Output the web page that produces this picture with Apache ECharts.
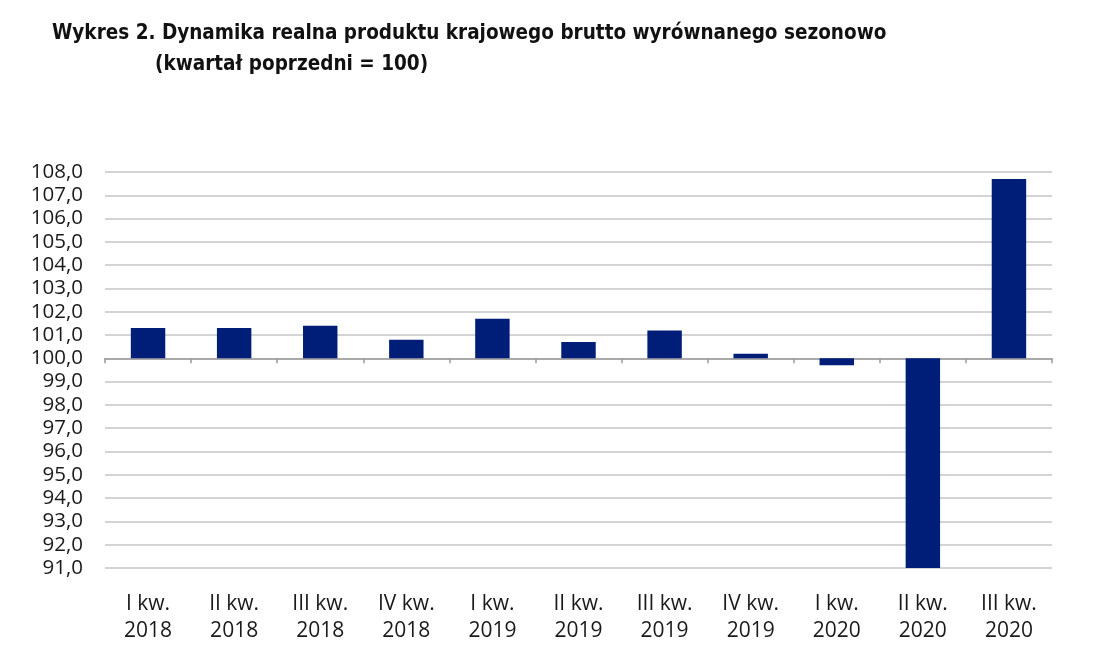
<!DOCTYPE html>
<html>
<head>
<meta charset="utf-8">
<script src="https://cdn.jsdelivr.net/npm/echarts@6/dist/echarts.min.js"></script>
<style>
  html, body { margin: 0; padding: 0; background: #fff; }
  #chart { width: 1101px; height: 659px; }
</style>
</head>
<body>
<div id="chart"></div>
<script>
// kwartały
const categories = [
  'I kw.\n2018', 'II kw.\n2018', 'III kw.\n2018', 'IV kw.\n2018',
  'I kw.\n2019', 'II kw.\n2019', 'III kw.\n2019', 'IV kw.\n2019',
  'I kw.\n2020', 'II kw.\n2020', 'III kw.\n2020'
];
// kwartał poprzedni = 100
const values = [101.3, 101.3, 101.4, 100.8, 101.7, 100.7, 101.2, 100.2, 99.7, 91.0, 107.7];
const base = 100;
const axisMin = 91;
const axisMax = 108;

const chart = echarts.init(document.getElementById('chart'));

const titleFont = { fontFamily: 'DejaVu Sans Condensed, sans-serif', fontWeight: 'bold', fontSize: 20.5, color: '#111' };

const option = {
  animation: false,
  backgroundColor: '#fff',
  title: [
    {
      text: 'Wykres 2. Dynamika realna produktu krajowego brutto wyrównanego sezonowo',
      left: 47, top: 18,
      textStyle: titleFont
    },
    {
      text: '(kwartał poprzedni = 100)',
      left: 150, top: 49,
      textStyle: titleFont
    }
  ],
  grid: { left: 105, right: 49, top: 172, bottom: 91 },
  xAxis: [
    {
      type: 'category',
      data: categories,
      axisLine: { onZero: true, lineStyle: { color: '#9a9a9a', width: 1.5 } },
      axisTick: { show: true, length: 5, lineStyle: { color: '#9a9a9a', width: 1.5 } },
      axisLabel: { show: false }
    },
    {
      type: 'category',
      data: categories,
      position: 'bottom',
      axisLine: { show: false },
      axisTick: { show: false },
      axisLabel: {
        margin: 23,
        color: '#1a1a1a',
        fontFamily: 'Open Sans, Noto Sans, sans-serif',
        fontSize: 21,
        lineHeight: 27
      }
    }
  ],
  yAxis: {
    type: 'value',
    min: axisMin - base,
    max: axisMax - base,
    interval: 1,
    axisLine: { show: false },
    axisTick: { show: false },
    splitLine: { lineStyle: { color: '#c6c6c6', width: 1.5 } },
    axisLabel: {
      margin: 22,
      color: '#1a1a1a',
      fontFamily: 'Open Sans, Noto Sans, sans-serif',
      fontSize: 20.5,
      formatter: (v) => (v + base).toFixed(1).replace('.', ',')
    }
  },
  series: [
    {
      type: 'bar',
      xAxisIndex: 0,
      data: values.map((v) => Math.max(v, axisMin) - base),
      barWidth: '40%',
      itemStyle: { color: '#001e78' }
    }
  ]
};

chart.setOption(option);
</script>
</body>
</html>
